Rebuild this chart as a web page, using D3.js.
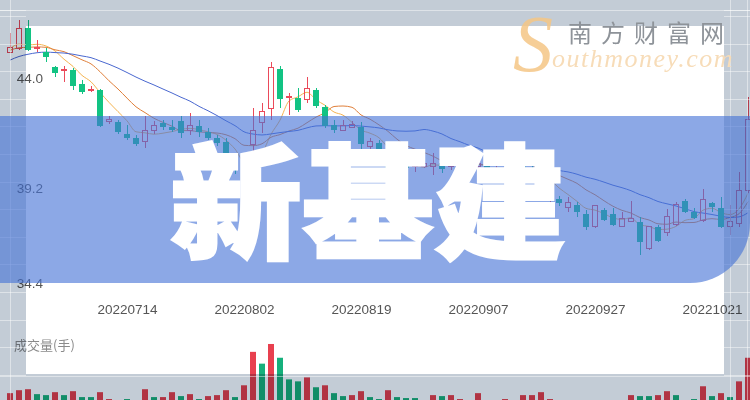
<!DOCTYPE html>
<html><head><meta charset="utf-8">
<script src="https://cdn.jsdelivr.net/npm/d3@7"></script>
<style>html,body{margin:0;padding:0;overflow:hidden;background:#fff}</style>
</head><body>
<script>
// ---------- DATA ----------
const dates = ["20220627","20220628","20220629","20220630","20220701","20220704","20220705","20220706","20220707","20220708",
"20220711","20220712","20220713","20220714","20220715","20220718","20220719","20220720","20220721","20220722",
"20220725","20220726","20220727","20220728","20220729","20220801","20220802","20220803","20220804","20220805",
"20220808","20220809","20220810","20220811","20220812","20220815","20220816","20220817","20220818","20220819",
"20220822","20220823","20220824","20220825","20220826","20220829","20220830","20220831","20220901","20220902",
"20220905","20220906","20220907","20220908","20220909","20220913","20220914","20220915","20220916","20220919",
"20220920","20220921","20220922","20220923","20220926","20220927","20220928","20220929","20220930","20221010",
"20221011","20221012","20221013","20221014","20221017","20221018","20221019","20221020","20221021","20221024",
"20221025","20221026","20221027"];
const opens = [45.13,45.27,46.18,45.31,45.13,44.48,44.31,44.35,43.74,43.48,
43.48,42.12,42.08,41.56,41.38,41.21,41.73,42.04,41.86,42.12,
41.69,41.91,41.64,41.38,41.21,40.34,39.90,41.08,42.04,42.65,
44.39,43.13,43.13,43.08,43.48,42.73,41.95,41.73,41.86,41.86,
41.03,41.16,40.73,39.90,40.16,40.16,40.16,40.16,40.29,40.12,
40.20,40.25,40.12,40.29,40.20,40.25,40.29,40.42,39.99,39.64,
38.68,38.72,38.37,38.46,38.07,37.50,38.24,38.07,37.54,37.76,
37.72,36.58,37.50,37.24,37.59,38.63,38.15,37.80,38.55,38.33,
37.50,37.67,39.11];
const closes = [45.31,46.18,45.22,45.35,44.92,44.22,44.39,43.65,43.39,43.52,
41.91,42.21,41.64,41.38,41.12,41.69,41.91,41.86,41.73,41.60,
41.91,41.64,41.38,41.16,40.34,39.99,39.03,41.69,42.56,44.44,
43.08,43.21,42.60,43.56,42.78,41.91,41.73,41.91,41.99,41.12,
41.21,40.73,39.77,40.16,40.07,40.25,40.29,40.29,40.03,40.47,
40.29,40.12,40.25,39.94,40.34,40.55,40.42,39.99,39.64,39.03,
38.81,38.55,38.55,38.15,37.50,38.42,37.80,37.59,37.85,37.85,
36.84,37.50,36.89,37.94,38.46,38.15,37.89,38.72,38.37,37.50,
37.72,39.11,42.17];
const highs = [45.96,46.53,46.53,45.66,45.31,44.52,44.52,44.44,43.91,43.65,
43.50,42.34,42.17,41.95,41.51,42.34,42.12,42.17,42.17,42.34,
42.47,42.17,41.82,41.51,41.38,40.51,40.16,42.69,42.91,44.70,
44.52,43.35,43.56,44.04,43.56,42.82,42.17,42.17,42.12,42.08,
41.38,41.29,40.86,40.42,40.34,40.55,40.42,40.73,40.51,40.68,
40.42,40.42,40.42,40.42,40.51,40.77,40.55,40.51,40.16,39.77,
38.98,38.85,38.81,38.59,38.24,38.46,38.33,38.33,38.15,38.63,
37.94,37.54,37.59,38.28,38.59,38.72,38.33,39.16,38.59,38.81,
38.46,39.90,43.17];
const lows = [45.09,45.22,45.18,45.13,44.70,44.04,43.83,43.48,43.30,43.39,
41.88,41.99,41.56,41.29,41.03,40.95,41.56,41.73,41.64,41.38,
41.51,41.43,41.29,41.03,40.16,39.81,38.59,40.64,41.60,42.17,
42.69,42.39,42.52,42.91,42.69,41.82,41.60,41.69,41.82,40.64,
40.34,40.60,39.64,39.72,39.90,39.90,40.07,39.77,39.86,39.99,
40.07,39.99,39.99,39.86,40.07,40.16,40.16,39.86,39.55,38.85,
38.55,38.42,38.15,37.94,37.37,37.46,37.76,37.54,37.50,37.72,
36.28,36.50,36.84,37.11,37.54,38.11,37.85,37.72,38.15,37.46,
37.15,37.50,38.98];
// closes of the 19 sessions before the first visible one (seed for the moving averages)
const priorCloses = [43.0,43.3,44.0,44.4,44.6,44.8,44.7,44.9,45.0,44.8,45.1,45.0,45.2,45.1,45.3,45.2,45.4,45.2,45.3];
// volume (万手) and its colour direction (1 = rising, 0 = falling)
const volumes = [9,12,13,8,7,10,7,11,5,5,10,3,1,3,1,13,5,5,10,6,8,3,6,7,12,5,17,51,39,59,45,23,21,25,15,17,9,6,7,11,
5,3,12,5,4,4,1,7,6,7,3,1,9,1,1,3,1,7,7,10,3,1,2,1,2,2,1,2,1,7,6,6,7,11,7,1,3,16,6,9,5,21,45];
const volumeUp = [1,1,1,0,0,1,0,1,0,0,1,1,0,0,0,1,0,1,1,0,1,0,1,1,1,0,1,1,0,1,0,0,0,1,0,1,0,0,1,1,
0,0,1,0,0,0,1,1,0,1,1,0,1,0,1,1,1,1,1,1,1,0,1,0,0,1,0,0,1,1,0,0,1,1,0,0,0,1,0,1,0,1,1];
const maPeriods = [5, 10, 20];
const priceTicks = [44.0, 39.2, 34.4];
const dateTicks = ["20220714","20220802","20220819","20220907","20220927","20221021"];
const volumeLabel = "成交量(手)";
const titleText = "新基建";
const brandCN = "南方财富网";
const brandS = "S";
const brandEN = "outhmoney.com";

// ---------- DRAW ----------
const W = 750, H = 400;
const svg = d3.select("body").append("svg").attr("width", W).attr("height", H)
  .style("display","block");

svg.append("rect").attr("width", W).attr("height", H).attr("fill", "#ffffff");

const x = d3.scalePoint().domain(dates).range([10, 748]);
const y = d3.scaleLinear().domain([39.2, 44.0]).range([188, 78]);
const vy = d3.scaleLinear().domain([0, 60]).range([402, 343]);

const UP = "#eb4a5a", DOWN = "#12c383";
const maColors = ["#f5b451", "#e07f3a", "#4a68d0"];

const data = dates.map((d, i) => ({d, o: opens[i], c: closes[i], h: highs[i], l: lows[i], v: volumes[i], vu: volumeUp[i]}));

// volume bars
svg.append("g").selectAll("rect").data(data).join("rect")
  .attr("x", d => x(d.d) - 3).attr("width", 6)
  .attr("y", d => vy(d.v)).attr("height", d => vy(0) - vy(d.v))
  .attr("fill", d => d.vu ? "#e8404f" : "#16b07c");

// moving averages
const all = priorCloses.concat(closes);
const off = priorCloses.length;
maPeriods.forEach((p, k) => {
  const vals = dates.map((d, i) => {
    const s = all.slice(off + i - p + 1, off + i + 1);
    return {d, v: d3.mean(s)};
  });
  svg.append("path").datum(vals)
    .attr("fill", "none").attr("stroke", maColors[k]).attr("stroke-width", 1)
    .attr("d", d3.line().x(d => x(d.d)).y(d => y(d.v)).curve(d3.curveMonotoneX));
});

// candles
const cg = svg.append("g").attr("shape-rendering", "crispEdges");
const candle = cg.selectAll("g").data(data).join("g");
candle.append("line")
  .attr("x1", d => x(d.d)).attr("x2", d => x(d.d))
  .attr("y1", d => y(d.h)).attr("y2", d => y(Math.max(d.o, d.c)))
  .attr("stroke", d => d.c >= d.o ? UP : DOWN);
candle.append("line")
  .attr("x1", d => x(d.d)).attr("x2", d => x(d.d))
  .attr("y1", d => y(Math.min(d.o, d.c))).attr("y2", d => y(d.l))
  .attr("stroke", d => d.c >= d.o ? UP : DOWN);
candle.append("rect")
  .attr("x", d => d.c >= d.o ? x(d.d) - 2.5 : x(d.d) - 3)
  .attr("width", d => d.c >= d.o ? 5 : 6)
  .attr("y", d => y(Math.max(d.o, d.c)))
  .attr("height", d => Math.max(1, y(Math.min(d.o, d.c)) - y(Math.max(d.o, d.c))))
  .attr("fill", d => d.c >= d.o ? "none" : DOWN)
  .attr("stroke", d => d.c >= d.o ? UP : "none");

// price axis labels
const ya = svg.append("g").attr("transform", "translate(47,0)")
  .call(d3.axisLeft(y).tickValues(priceTicks).tickFormat(d3.format(".1f")).tickSize(0).tickPadding(4));
ya.select(".domain").remove();
ya.selectAll("text").attr("fill", "#555").attr("font-size", 13.5)
  .attr("font-family", "'Liberation Sans', Arial, sans-serif")
  .attr("dy", d => d === priceTicks[priceTicks.length - 1] ? -10.5 : "0.33em");

// date axis labels
const xa = svg.append("g").attr("transform", "translate(0,304.5)")
  .call(d3.axisBottom(x).tickValues(dateTicks).tickSize(0).tickPadding(0));
xa.select(".domain").remove();
xa.selectAll("text").attr("fill", "#555").attr("font-size", 13.5)
  .attr("font-family", "'Liberation Sans', Arial, sans-serif");

svg.append("text").attr("x", 14).attr("y", 350).text(volumeLabel)
  .attr("fill", "#8a8a8a").attr("font-size", 13)
  .attr("font-family", "'Noto Sans CJK SC', sans-serif");

// grey frame around the white card
svg.append("path")
  .attr("d", `M0,0H${W}V${H}H0Z M26,26V374H724V26Z`)
  .attr("fill-rule", "evenodd").attr("fill", "#c3ccd6")
  .style("mix-blend-mode", "multiply");
const fg = svg.append("g").attr("stroke", "#ffffff").attr("stroke-opacity", 0.45).attr("stroke-width", 1)
  .attr("shape-rendering", "crispEdges");
const frameH = [10].concat(d3.range(16.5, 400, 27.6));
frameH.forEach(yy => {
  fg.append("line").attr("x1", 0).attr("x2", 26).attr("y1", yy).attr("y2", yy);
  fg.append("line").attr("x1", 724).attr("x2", 750).attr("y1", yy).attr("y2", yy);
});
fg.append("line").attr("x1", 0).attr("x2", 750).attr("y1", 10.5).attr("y2", 10.5);
fg.append("line").attr("x1", 0).attr("x2", 750).attr("y1", 376.5).attr("y2", 376.5);
[10.5, 730.5, 747.5].forEach(xx => fg.append("line").attr("x1", xx).attr("x2", xx).attr("y1", 0).attr("y2", 400));

// blue banner
svg.append("path")
  .attr("d", "M0,116H750V223A60,60 0 0 1 690,283H0Z")
  .attr("fill", "rgba(70,115,215,0.62)");

// big title
svg.append("g").selectAll("text").data(Array.from(titleText)).join("text")
  .attr("transform", (d, i) => `translate(${236 + i * 132},249) scale(1.06,1)`)
  .attr("text-anchor", "middle")
  .attr("font-family", "'Noto Sans CJK SC', sans-serif")
  .attr("font-weight", 900).attr("font-size", 124)
  .attr("fill", "#ffffff").attr("stroke", "#ffffff").attr("stroke-width", 3)
  .attr("paint-order", "stroke")
  .text(d => d);

// watermark
svg.append("text").attr("x", 513).attr("y", 71).text(brandS)
  .attr("font-family", "'Liberation Serif', 'DejaVu Serif', serif")
  .attr("font-style", "italic").attr("font-size", 80)
  .attr("fill", "#f4c585").attr("fill-opacity", 0.85);
svg.append("text").attr("x", 552).attr("y", 67).text(brandEN)
  .attr("font-family", "'Liberation Serif', 'DejaVu Serif', serif")
  .attr("font-style", "italic").attr("font-size", 26).attr("letter-spacing", 1.5)
  .attr("fill", "#f7dcb8");
svg.append("text").attr("x", 568).attr("y", 42).text(brandCN)
  .attr("font-family", "'Noto Sans CJK SC', sans-serif")
  .attr("font-size", 24).attr("letter-spacing", 9)
  .attr("fill", "#8e9399");
</script>
</body></html>
